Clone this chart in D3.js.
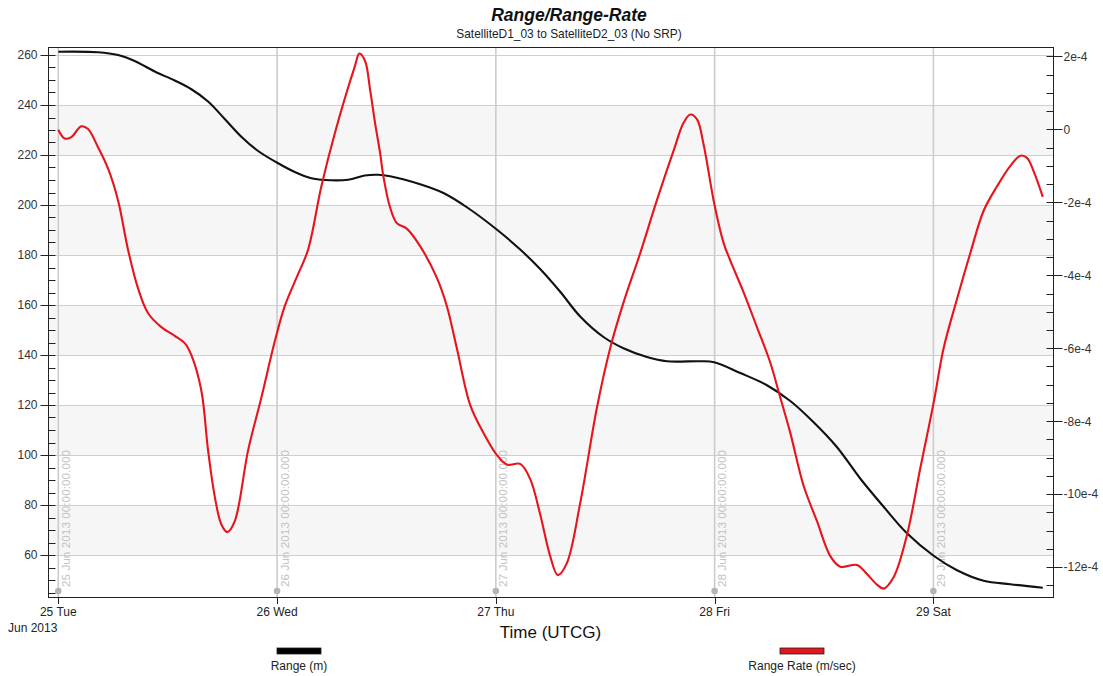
<!DOCTYPE html>
<html>
<head>
<meta charset="utf-8">
<script src="https://cdn.jsdelivr.net/npm/d3@7"></script>
<style>
  body { margin: 0; background: #fff; }
  svg { font-family: "Liberation Sans", Arial, sans-serif; }
</style>
</head>
<body>
<svg id="chart" width="1103" height="676"></svg>
<script>
// ---- Data -------------------------------------------------------------
// Epoch of the analysis interval (UTCG)
const epoch = Date.UTC(2013, 5, 25, 0, 0, 0);

// Range (m): hours since epoch, value
const rangeHours = [0, 4.36, 6.55, 8.38, 10.58, 12.77, 14.6, 16.43, 18.26, 20.08, 21.92, 23.97,
  25.94, 27.76, 29.23, 31.79, 33.62, 35.08, 36.4, 39.69, 42.25, 44.82, 48.03, 50.67, 52.86,
  55.06, 57.25, 59.81, 62.0, 64.57, 66.77, 70.42, 71.96, 74.81, 77.74, 80.3, 82.86, 85.41,
  87.97, 90.54, 93.1, 96.06, 98.59, 101.51, 104.44, 108.0];
const rangeValues = [261.3, 261.1, 260.0, 257.6, 253.4, 249.8, 246.3, 241.4, 234.4, 227.3, 221.6, 217.0,
  213.2, 210.7, 210.0, 210.1, 211.8, 212.1, 211.5, 208.3, 204.8, 199.1, 190.4, 182.2, 174.4,
  165.3, 155.4, 147.2, 142.7, 139.2, 137.5, 137.5, 137.1, 132.8, 127.9, 121.6, 113.1, 103.2,
  90.6, 79.3, 68.7, 59.6, 53.9, 49.7, 48.3, 46.9];

// Range Rate (m/sec): hours since epoch, value
const rateHours = [0, 0.7, 1.43, 2.52, 3.26, 4.36, 5.45, 6.55, 7.65, 8.75, 9.85, 11.3, 12.77, 13.87,
  14.6, 15.69, 16.43, 17.16, 17.89, 18.55, 19.36, 20.82, 22.28, 23.75, 24.85, 26.3, 27.4, 28.86,
  30.33, 32.52, 33.03, 33.66, 34.21, 34.76, 35.31, 35.67, 36.4, 37.14, 38.23, 39.69, 41.53,
  42.62, 43.72, 45.18, 46.64, 48.03, 49.21, 50.67, 51.76, 52.86, 53.96, 54.8, 55.79, 57.25, 59.08,
  60.54, 62.0, 63.84, 65.67, 67.49, 68.59, 69.32, 70.06, 70.78, 71.96, 72.98, 73.71, 75.17, 76.64,
  78.1, 79.2, 80.3, 81.76, 83.23, 84.69, 85.78, 87.62, 88.71, 89.81, 90.54, 91.63, 93.1, 94.56,
  96.06, 97.12, 98.59, 100.05, 101.51, 102.98, 104.44, 105.54, 106.27, 107.0, 108.0];
const rateValues = [-0.01e-4, -0.25e-4, -0.21e-4, 0.085e-4, 0.01e-4, -0.49e-4, -1.07e-4, -1.94e-4,
  -3.3e-4, -4.36e-4, -5.04e-4, -5.42e-4, -5.66e-4, -5.86e-4, -6.19e-4, -7.16e-4, -8.8e-4, -10.06e-4,
  -10.83e-4, -11.04e-4, -10.74e-4, -8.8e-4, -7.35e-4, -5.81e-4, -4.84e-4, -3.97e-4, -3.3e-4,
  -1.56e-4, -0.11e-4, 1.72e-4, 2.08e-4, 1.87e-4, 1.08e-4, 0.16e-4, -0.66e-4, -1.3e-4,
  -2.14e-4, -2.57e-4, -2.72e-4, -3.2e-4, -4.07e-4, -4.84e-4, -6.0e-4, -7.55e-4, -8.32e-4, -8.9e-4,
  -9.19e-4, -9.17e-4, -9.58e-4, -10.55e-4, -11.7e-4, -12.22e-4, -11.89e-4, -10.25e-4, -7.64e-4,
  -6.0e-4, -4.75e-4, -3.39e-4, -1.94e-4, -0.59e-4, 0.18e-4, 0.41e-4, 0.28e-4, -0.4e-4, -2.04e-4,
  -3.11e-4, -3.59e-4, -4.46e-4, -5.42e-4, -6.39e-4, -7.35e-4, -8.32e-4, -9.77e-4, -10.74e-4,
  -11.7e-4, -11.99e-4, -11.94e-4, -12.19e-4, -12.48e-4, -12.59e-4, -12.28e-4, -11.12e-4, -9.29e-4,
  -7.45e-4, -6.0e-4, -4.65e-4, -3.39e-4, -2.23e-4, -1.56e-4, -1.0e-4, -0.72e-4, -0.78e-4,
  -1.15e-4, -1.85e-4];

// Axis ticks
const dayLabels = ["25 Tue", "26 Wed", "27 Thu", "28 Fri", "29 Sat"];
const dayMarkerLabels = ["25 Jun 2013 00:00:00.000", "26 Jun 2013 00:00:00.000",
  "27 Jun 2013 00:00:00.000", "28 Jun 2013 00:00:00.000", "29 Jun 2013 00:00:00.000"];
const rangeTicks = [60, 80, 100, 120, 140, 160, 180, 200, 220, 240, 260];
const rateTicks = [-12e-4, -10e-4, -8e-4, -6e-4, -4e-4, -2e-4, 0, 2e-4];
const rateTickLabels = ["-12e-4", "-10e-4", "-8e-4", "-6e-4", "-4e-4", "-2e-4", "0", "2e-4"];

// ---- Layout -----------------------------------------------------------
const plot = { left: 48, right: 1053, top: 47, bottom: 597 };
const HOUR = 3600e3;

const svg = d3.select("#chart");

const x = d3.scaleUtc()
  .domain([new Date(epoch - 1.13 * HOUR), new Date(epoch + 109.12 * HOUR)])
  .range([plot.left, plot.right]);
const yL = d3.scaleLinear().domain([43.2, 263.2]).range([plot.bottom, plot.top]);
const yR = d3.scaleLinear().domain([-12.82e-4, 2.26e-4]).range([plot.bottom, plot.top]);

const dayDates = dayLabels.map((_, i) => new Date(epoch + i * 24 * HOUR));

// Alternating background bands
const bands = rangeTicks.filter((v, i) => i % 2 === 0 && v + 20 <= 260);
svg.append("g").selectAll("rect").data(bands).join("rect")
  .attr("x", plot.left).attr("width", plot.right - plot.left)
  .attr("y", d => yL(d + 20)).attr("height", d => yL(d) - yL(d + 20))
  .attr("fill", "#f6f6f6");

// Horizontal grid lines
svg.append("g").selectAll("line").data(rangeTicks).join("line")
  .attr("x1", plot.left).attr("x2", plot.right)
  .attr("y1", d => Math.round(yL(d)) + 0.5).attr("y2", d => Math.round(yL(d)) + 0.5)
  .attr("stroke", "#cfcfcf").attr("stroke-width", 1);

// Day marker lines with rotated time stamps
const markers = svg.append("g");
markers.selectAll("line").data(dayDates).join("line")
  .attr("x1", d => x(d)).attr("x2", d => x(d))
  .attr("y1", plot.top).attr("y2", plot.bottom)
  .attr("stroke", "#cccccc").attr("stroke-width", 1.6);
markers.selectAll("circle").data(dayDates).join("circle")
  .attr("cx", d => x(d)).attr("cy", 591).attr("r", 3.3)
  .attr("fill", "#b4b4b4");
markers.selectAll("text").data(dayDates).join("text")
  .attr("transform", d => `translate(${x(d) + 11.5},587) rotate(-90)`)
  .attr("font-size", 11.8).attr("fill", "#c2c2c2")
  .text((d, i) => dayMarkerLabels[i]);

// Series
const rangeLine = d3.line()
  .x(d => x(new Date(epoch + d[0] * HOUR))).y(d => yL(d[1]))
  .curve(d3.curveCatmullRom.alpha(0.5));
const rateLine = d3.line()
  .x(d => x(new Date(epoch + d[0] * HOUR))).y(d => yR(d[1]))
  .curve(d3.curveCatmullRom.alpha(0.5));

svg.append("path")
  .datum(rangeHours.map((h, i) => [h, rangeValues[i]]))
  .attr("d", rangeLine).attr("fill", "none")
  .attr("stroke", "#111").attr("stroke-width", 2.1);
svg.append("path")
  .datum(rateHours.map((h, i) => [h, rateValues[i]]))
  .attr("d", rateLine).attr("fill", "none")
  .attr("stroke", "#e8141b").attr("stroke-width", 2.1);

// Frame
svg.append("rect")
  .attr("x", plot.left + 0.5).attr("y", plot.top + 0.5)
  .attr("width", plot.right - plot.left).attr("height", plot.bottom - plot.top)
  .attr("fill", "none").attr("stroke", "#222").attr("stroke-width", 1);

// Left axis: major ticks across the frame, minor ticks inside
const leftMinor = d3.range(45, 263, 5).filter(v => v % 20 !== 0);
const gL = svg.append("g").attr("transform", `translate(${plot.left + 0.5},0)`);
gL.selectAll("line.major").data(rangeTicks).join("line").attr("class", "major")
  .attr("x1", -8).attr("x2", 7)
  .attr("y1", d => Math.round(yL(d)) + 0.5).attr("y2", d => Math.round(yL(d)) + 0.5)
  .attr("stroke", "#222");
gL.selectAll("line.minor").data(leftMinor).join("line").attr("class", "minor")
  .attr("x1", 0).attr("x2", 7)
  .attr("y1", d => Math.round(yL(d)) + 0.5).attr("y2", d => Math.round(yL(d)) + 0.5)
  .attr("stroke", "#222");
gL.selectAll("text").data(rangeTicks).join("text")
  .attr("x", -11).attr("y", d => yL(d)).attr("dy", "0.36em")
  .attr("text-anchor", "end").attr("font-size", 12).attr("fill", "#333")
  .text(d => d);

// Right axis
const rightMinor = d3.range(-12.5, 2.3, 0.5).filter(v => Math.abs(v % 2) > 1e-9).map(v => v * 1e-4);
const gR = svg.append("g").attr("transform", `translate(${plot.right + 0.5},0)`);
gR.selectAll("line.major").data(rateTicks).join("line").attr("class", "major")
  .attr("x1", -7).attr("x2", 9)
  .attr("y1", d => Math.round(yR(d)) + 0.5).attr("y2", d => Math.round(yR(d)) + 0.5)
  .attr("stroke", "#222");
gR.selectAll("line.minor").data(rightMinor).join("line").attr("class", "minor")
  .attr("x1", -7).attr("x2", 0)
  .attr("y1", d => Math.round(yR(d)) + 0.5).attr("y2", d => Math.round(yR(d)) + 0.5)
  .attr("stroke", "#222");
gR.selectAll("text").data(rateTicks).join("text")
  .attr("x", 10).attr("y", d => yR(d)).attr("dy", "0.36em")
  .attr("text-anchor", "start").attr("font-size", 12).attr("fill", "#333")
  .text((d, i) => rateTickLabels[i]);

// Bottom axis
const gB = svg.append("g");
gB.selectAll("line").data(dayDates).join("line")
  .attr("x1", d => Math.round(x(d)) + 0.5).attr("x2", d => Math.round(x(d)) + 0.5)
  .attr("y1", plot.bottom).attr("y2", plot.bottom + 7)
  .attr("stroke", "#222");
gB.selectAll("text").data(dayDates).join("text")
  .attr("x", d => x(d)).attr("y", 616)
  .attr("text-anchor", "middle").attr("font-size", 12).attr("fill", "#222")
  .text((d, i) => dayLabels[i]);
svg.append("text").attr("x", 8).attr("y", 632)
  .attr("font-size", 12).attr("fill", "#222").text("Jun 2013");
svg.append("text").attr("x", (plot.left + plot.right) / 2).attr("y", 638)
  .attr("text-anchor", "middle").attr("font-size", 17).attr("fill", "#111")
  .text("Time (UTCG)");

// Titles
svg.append("text").attr("x", 569).attr("y", 21)
  .attr("text-anchor", "middle").attr("font-size", 17.5)
  .attr("font-weight", "bold").attr("font-style", "italic").attr("fill", "#111")
  .text("Range/Range-Rate");
svg.append("text").attr("x", 569).attr("y", 38)
  .attr("text-anchor", "middle").attr("font-size", 11.9).attr("fill", "#222")
  .text("SatelliteD1_03 to SatelliteD2_03 (No SRP)");

// Legend
const legendItems = [
  { label: "Range (m)", color: "#000", cx: 299 },
  { label: "Range Rate (m/sec)", color: "#e8141b", cx: 802 }
];
const lg = svg.append("g").selectAll("g").data(legendItems).join("g");
lg.append("rect")
  .attr("x", d => d.cx - 22).attr("y", 648).attr("width", 44).attr("height", 6)
  .attr("fill", d => d.color).attr("stroke", "#222").attr("stroke-width", 0.8);
lg.append("text")
  .attr("x", d => d.cx).attr("y", 670).attr("text-anchor", "middle")
  .attr("font-size", 12).attr("fill", "#222").text(d => d.label);
</script>
</body>
</html>
